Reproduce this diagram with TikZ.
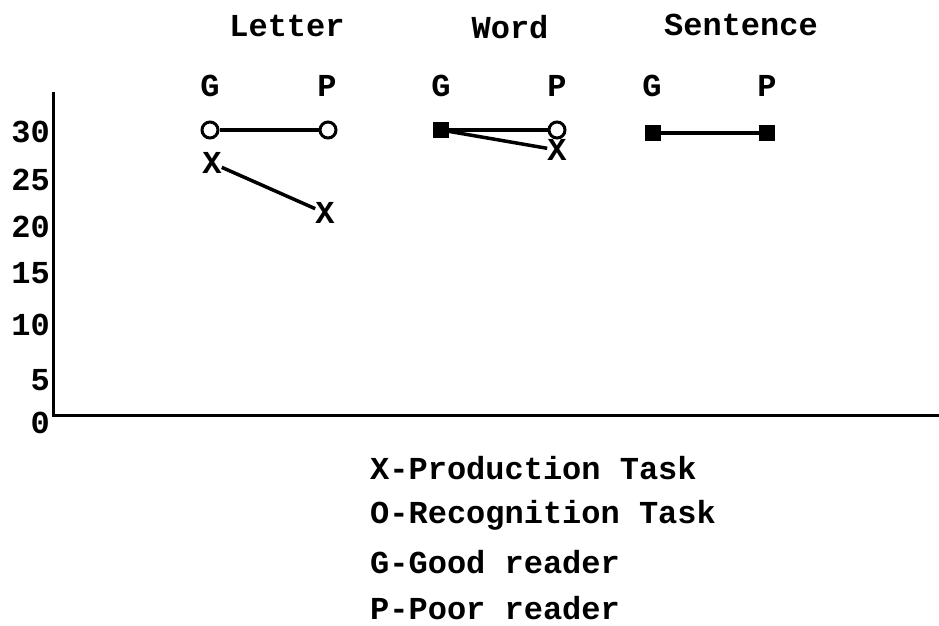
\documentclass[tikz,border=0pt]{standalone}
\usepackage{fontspec}
\setmonofont{Liberation Mono}
\begin{document}
\begin{tikzpicture}[x=1pt,y=-1pt,every node/.style={font=\ttfamily\bfseries\fontsize{32}{36}\selectfont,inner sep=0pt},
  rec/.style={circle,draw,line width=3pt,minimum size=16pt,fill=white},
  both/.style={rectangle,fill,minimum size=16pt},
  link/.style={line width=3.5pt}]
  \useasboundingbox (0,0) rectangle (939,625);
  % axes
  \coordinate (top) at (53,92);
  \coordinate (o) at (53,415);
  \coordinate (xend) at (939,415);
  \draw[line width=3pt] (top) -- (o) -- (xend);
  \node[anchor=east] (t30) at (50,132) {30};
  \node[anchor=east] (t25) at (50,180) {25};
  \node[anchor=east] (t20) at (50,227) {20};
  \node[anchor=east] (t15) at (50,273) {15};
  \node[anchor=east] (t10) at (50,325) {10};
  \node[anchor=east] (t5) at (50,380) {5};
  \node[anchor=east] (t0) at (50,423) {0};
  % headings
  \node (letter) at (287,26) {Letter};
  \node (word) at (510,27) {Word};
  \node (sentence) at (741,25) {Sentence};
  \node (lg) at (210,86) {G};
  \node (lp) at (327,86) {P};
  \node (wg) at (441,86) {G};
  \node (wp) at (557,86) {P};
  \node (sg) at (652,86) {G};
  \node (sp) at (767,86) {P};
  % letter
  \node[rec] (lgo) at (210,130) {};
  \node[rec] (lpo) at (328,130) {};
  \node (lgx) at (212,163) {X};
  \node (lpx) at (325,213) {X};
  % word
  \node[both] (wgb) at (441,130) {};
  \node[rec] (wpo) at (557,130) {};
  \node (wpx) at (557,150) {X};
  % sentence
  \node[both] (sgb) at (653,133) {};
  \node[both] (spb) at (767,133) {};
  \draw[link] (lgo) -- (lpo);
  \draw[link] (lgx) -- (lpx);
  \draw[link] (wgb) -- (wpo);
  \draw[link] (wgb) -- (wpx);
  \draw[link] (sgb) -- (spb);
  % key
  \node[anchor=west] (kx) at (370,468) {X-Production Task};
  \node[anchor=west] (ko) at (370,515) {O-Recognition Task};
  \node[anchor=west] (kg) at (370,562) {G-Good reader};
  \node[anchor=west] (kp) at (370,608) {P-Poor reader};
\end{tikzpicture}
\end{document}
